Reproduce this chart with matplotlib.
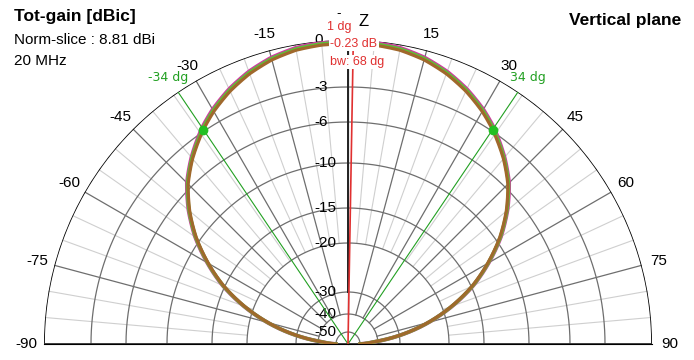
"""
Vertical-plane antenna pattern (4nec2 style half polar plot).
"""

import numpy as np
import matplotlib.pyplot as plt

# ── data ──────────────────────────────────────────────────────────────
ANGLES = [-90, -85, -80, -75, -70, -65, -60, -55, -50, -45, -40, -34, -30,
          -25, -20, -15, -10, -5, 0, 1, 5, 10, 15, 20, 25, 30, 34, 40, 45,
          50, 55, 60, 65, 70, 75, 80, 85, 90]
GAIN_DB = [-50.0, -41.5, -29.4, -23.7, -18.7, -14.9, -12.2, -9.6, -7.5,
           -5.65, -4.3, -2.9, -2.27, -1.6, -1.05, -0.63, -0.36, -0.25, -0.24,
           -0.23, -0.25, -0.36, -0.63, -1.05, -1.6, -2.27, -2.9, -4.3, -5.65,
           -7.5, -9.6, -12.2, -14.9, -18.7, -23.7, -29.4, -41.5, -50.0]

RING_LEVELS = [0, -3, -6, -10, -15, -20, -30, -40, -50]
RING_LABELS = ["0", "-3", "-6", "-10", "-15", "-20", "-30", "-40", "-50"]
ANGLE_TICKS = [-90, -75, -60, -45, -30, -15, 15, 30, 45, 60, 75, 90]
BEAM_EDGES = [-34, 34]
BEAM_EDGE_DB = -2.9
PEAK_ANGLE = 1

# radial scale of the plot (dB -> pixel radius of the 304 px outer ring)
SCALE_DB = np.array([-60, -50, -40, -30, -20, -15, -10, -6, -3, 0, 10])
SCALE_PX = np.array([0, 12, 30, 52, 101, 136, 181, 222, 257, 304, 461])


def fwd(db):
    return np.interp(db, SCALE_DB, SCALE_PX / 304.0)


def inv(frac):
    return np.interp(frac, SCALE_PX / 304.0, SCALE_DB)


W, H = 694, 360
CX, CY, R = 348, 344, 304          # centre and outer radius, pixels
fig = plt.figure(figsize=(W / 100, H / 100), dpi=100)
fig.patch.set_facecolor("white")

# the half wedge sits in the middle of a square box, so centre the box
# half a radius above the wedge's origin
ax = fig.add_axes([(CX - R) / W, (H - (CY - R / 2) - R) / H,
                   2 * R / W, 2 * R / H], projection="polar")
ax.set_theta_zero_location("N")
ax.set_theta_direction(-1)
ax.set_thetamin(-90)
ax.set_thetamax(90)
ax.set_rscale("function", functions=(fwd, inv))
ax.set_rlim(-60, 0)
ax.grid(False)
ax.set_xticks([])
ax.set_yticks([])
for sp in ax.spines.values():
    sp.set_visible(False)

rad = np.radians
arc = np.linspace(-np.pi / 2, np.pi / 2, 361)
narrow = ["Liberation Sans Narrow", "Liberation Sans"]

# ── grid ──────────────────────────────────────────────────────────────
for a in range(-85, 90, 5):
    if a % 15:
        ax.plot([rad(a)] * 2, [-20, 0], color="#cfcfcf", lw=0.8, zorder=1)
for a in range(-75, 90, 15):
    ax.plot([rad(a)] * 2, [-40, 0], color="#6e6e6e", lw=0.9, zorder=1.2)
for lev in RING_LEVELS[1:]:
    ax.plot(arc, np.full_like(arc, lev), color="#6e6e6e", lw=0.9, zorder=1.2)
ax.plot(arc, np.zeros_like(arc), color="black", lw=1.2, zorder=2)
ax.plot([rad(-90), rad(-90)], [-60, 0], color="#333333", lw=1.3, zorder=2)
ax.plot([rad(90), rad(90)], [-60, 0], color="#333333", lw=1.3, zorder=2)
ax.plot([0, 0], [-30, 0], color="#222222", lw=1.4, zorder=2)

for lev, lab in zip(RING_LEVELS, RING_LABELS):
    ax.annotate(lab, (0, lev), xytext=(-24.5, 0), textcoords="offset points",
                ha="left", va="center", fontsize=11, family=narrow, zorder=3)

for a in ANGLE_TICKS:
    ax.text(rad(a), 1.1, str(a), ha="center", va="center", fontsize=11,
            family=narrow)

# ── pattern ───────────────────────────────────────────────────────────
th = rad(np.array(ANGLES))
g = np.array(GAIN_DB)
for off, col, lw, z in [(0.15, "#d03aa0", 2.8, 3), (0.08, "#5cc038", 2.6, 3.1),
                        (0.0, "#a0682c", 2.3, 3.2)]:
    ln, = ax.plot(th, g + off, color=col, lw=lw, zorder=z,
                  solid_joinstyle="round")
    # draw each step as a curve in polar space rather than a chord
    ln.get_path()._interpolation_steps = 24

# beamwidth markers
for a in BEAM_EDGES:
    ax.plot([rad(a)] * 2, [-60, 0.4], color="#22a022", lw=0.8, zorder=4)
    ax.plot(rad(a), BEAM_EDGE_DB, "o", color="#22c022", ms=6, zorder=4.5)
    ax.text(rad(a), 1.1, f"{a} dg", color="#22a022", fontsize=9,
            ha="center", va="center", zorder=5)

# max direction
ax.plot([rad(PEAK_ANGLE)] * 2, [-60, 0], color="#e03030", lw=1.2, zorder=4)

# ── texts ─────────────────────────────────────────────────────────────
def ftext(x, y, s, **kw):
    fig.text(x / W, 1 - y / H, s, **kw)


ftext(14, 16, "Tot-gain [dBic]", fontsize=12.5, fontweight="bold",
      va="center", family="Liberation Sans")
ftext(14, 40, "Norm-slice : 8.81 dBi", fontsize=11, va="center",
      family="Liberation Sans")
ftext(14, 61, "20 MHz", fontsize=11, va="center", family="Liberation Sans")
ftext(681, 20, "Vertical plane", fontsize=12.5, fontweight="bold",
      ha="right", va="center", family="Liberation Sans")

ftext(364, 22, "Z", fontsize=12, ha="center", va="center",
      family="Liberation Sans")
ftext(339, 14, "-", fontsize=9, ha="center", va="center")
red = dict(color="#e03030", fontsize=9, ha="center", va="center",
           family="Liberation Sans", zorder=6)
box = dict(boxstyle="square,pad=0.1", fc="white", ec="none")
ftext(339, 27, "1 dg", **red)
ftext(354, 44, "-0.23 dB", bbox=box, **red)
ftext(357, 62, "bw: 68 dg", bbox=box, **red)

fig.savefig("out.png", dpi=100)
